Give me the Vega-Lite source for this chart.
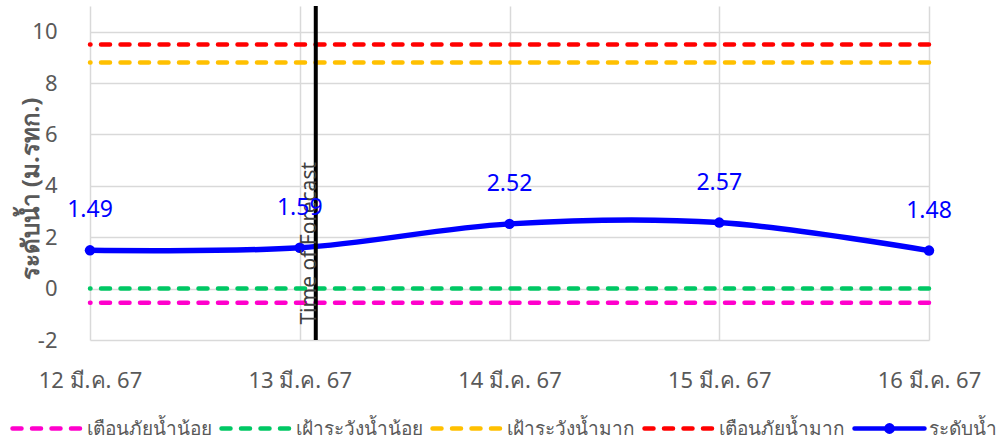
{
  "$schema": "https://vega.github.io/schema/vega-lite/v6.json",
  "width": 839,
  "height": 334,
  "autosize": {"type": "none"},
  "padding": {"left": 90, "top": 6, "right": 71, "bottom": 101},
  "background": "white",
  "config": {
    "view": {"stroke": null},
    "font": "Noto Sans",
    "axis": {"gridColor": "#d9d9d9", "gridWidth": 1.5, "domain": false, "ticks": false, "labelColor": "#595959", "titleColor": "#595959"}
  },
  "datasets": {
    "levels": [
      {"date": "2024-03-12T00:00:00Z", "series": "ระดับน้ำ", "level": 1.49},
      {"date": "2024-03-13T00:00:00Z", "series": "ระดับน้ำ", "level": 1.59},
      {"date": "2024-03-14T00:00:00Z", "series": "ระดับน้ำ", "level": 2.52},
      {"date": "2024-03-15T00:00:00Z", "series": "ระดับน้ำ", "level": 2.57},
      {"date": "2024-03-16T00:00:00Z", "series": "ระดับน้ำ", "level": 1.48}
    ],
    "thresholds": [
      {"series": "เตือนภัยน้ำน้อย", "level": -0.55},
      {"series": "เฝ้าระวังน้ำน้อย", "level": 0.0},
      {"series": "เฝ้าระวังน้ำมาก", "level": 8.8},
      {"series": "เตือนภัยน้ำมาก", "level": 9.5}
    ],
    "forecast": [
      {"time": "2024-03-13T01:50:00Z", "label": "Time of Forecast"}
    ]
  },
  "layer": [
    {
      "data": {"name": "thresholds"},
      "mark": {"type": "rule", "strokeDash": [9, 10.5], "strokeWidth": 4.5, "strokeCap": "round"},
      "encoding": {
        "y": {
          "field": "level", "type": "quantitative",
          "scale": {"domain": [-2, 11], "nice": false, "zero": false},
          "axis": {
            "values": [-2, 0, 2, 4, 6, 8, 10],
            "labelExpr": "'' + datum.value",
            "labelFontSize": 22, "labelPadding": 33,
            "title": "ระดับน้ำ (ม.รทก.)", "titleFontSize": 24, "titleFontWeight": "bold",
            "titleX": -59, "titleY": 182, "titleAngle": -90, "titleAlign": "center", "titleBaseline": "middle"
          }
        },
        "color": {
          "field": "series", "type": "nominal",
          "scale": {
            "domain": ["เตือนภัยน้ำน้อย", "เฝ้าระวังน้ำน้อย", "เฝ้าระวังน้ำมาก", "เตือนภัยน้ำมาก", "ระดับน้ำ"],
            "range": ["#ff00cc", "#00c864", "#ffc000", "#ff0000", "#0000ff"]
          },
          "legend": {
            "orient": "none", "legendX": -80, "legendY": 385,
            "direction": "horizontal", "columns": 5, "gridAlign": "none", "title": null,
            "symbolType": "stroke", "symbolSize": 4900, "symbolStrokeWidth": 4.5,
            "labelFontSize": 19, "labelColor": "#595959", "labelOffset": 2, "columnPadding": 0,
            "encode": {
              "symbols": {
                "update": {
                  "shape": {"signal": "datum.value === 'ระดับน้ำ' ? 'M-1,0H1M-0.09,0A0.09,0.09,0,1,0,0.09,0A0.09,0.09,0,1,0,-0.09,0Z' : 'stroke'"},
                  "strokeDash": {"signal": "datum.value === 'ระดับน้ำ' ? [] : [9, 10.5]"},
                  "fill": {"signal": "datum.value === 'ระดับน้ำ' ? '#0000ff' : 'transparent'"},
                  "strokeCap": {"value": "round"}
                }
              }
            }
          }
        }
      }
    },
    {
      "data": {"name": "levels"},
      "mark": {"type": "line", "interpolate": "catmull-rom", "strokeWidth": 5.5},
      "encoding": {
        "x": {
          "field": "date", "type": "temporal",
          "scale": {"type": "utc", "domain": [{"year": 2024, "month": 3, "date": 12, "utc": true}, {"year": 2024, "month": 3, "date": 16, "utc": true}]},
          "axis": {
            "values": [
              {"year": 2024, "month": 3, "date": 12, "utc": true},
              {"year": 2024, "month": 3, "date": 13, "utc": true},
              {"year": 2024, "month": 3, "date": 14, "utc": true},
              {"year": 2024, "month": 3, "date": 15, "utc": true},
              {"year": 2024, "month": 3, "date": 16, "utc": true}
            ],
            "labelExpr": "utcFormat(datum.value, '%-d') + ' มี.ค. 67'",
            "labelFlush": false, "labelBound": false, "labelOverlap": false,
            "labelFontSize": 22, "labelPadding": 30, "title": null
          }
        },
        "y": {"field": "level", "type": "quantitative"},
        "color": {"field": "series", "type": "nominal"}
      }
    },
    {
      "data": {"name": "levels"},
      "mark": {"type": "point", "filled": true, "size": 110, "opacity": 1},
      "encoding": {
        "x": {"field": "date", "type": "temporal"},
        "y": {"field": "level", "type": "quantitative"},
        "color": {"field": "series", "type": "nominal"}
      }
    },
    {
      "data": {"name": "forecast"},
      "mark": {"type": "rule", "color": "black", "strokeWidth": 4},
      "encoding": {
        "x": {"field": "time", "type": "temporal"}
      }
    },
    {
      "data": {"name": "forecast"},
      "mark": {"type": "text", "angle": 270, "align": "left", "baseline": "alphabetic", "fontSize": 21, "color": "#404040"},
      "encoding": {
        "x": {"field": "time", "type": "temporal"},
        "y": {"datum": -1.4},
        "text": {"field": "label"}
      }
    },
    {
      "data": {"name": "levels"},
      "mark": {"type": "text", "dy": -40, "fontSize": 23, "color": "#0000ff"},
      "encoding": {
        "x": {"field": "date", "type": "temporal"},
        "y": {"field": "level", "type": "quantitative"},
        "text": {"field": "level", "type": "quantitative", "format": ".2f"}
      }
    }
  ]
}
